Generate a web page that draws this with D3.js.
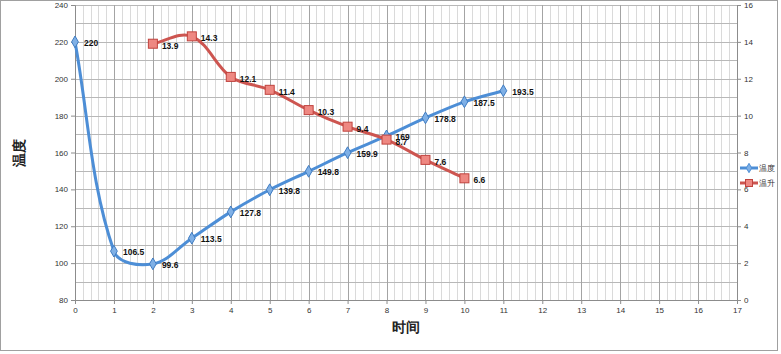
<!DOCTYPE html>
<html>
<head>
<meta charset="utf-8">
<script src="https://cdn.jsdelivr.net/npm/d3@7"></script>
<style>
  body { margin: 0; background: #fff; }
  text { font-family: "Liberation Sans", Arial, sans-serif; }
</style>
</head>
<body>
<div id="chart"></div>
<script>
// data
var tempX = [0, 1, 2, 3, 4, 5, 6, 7, 8, 9, 10, 11];
var tempY = [220, 106.5, 99.6, 113.5, 127.8, 139.8, 149.8, 159.9, 169, 178.8, 187.5, 193.5];
var riseX = [2, 3, 4, 5, 6, 7, 8, 9, 10];
var riseY = [13.9, 14.3, 12.1, 11.4, 10.3, 9.4, 8.7, 7.6, 6.6];
var leftTicks = [80, 100, 120, 140, 160, 180, 200, 220, 240];
var rightTicks = [0, 2, 4, 6, 8, 10, 12, 14, 16];
var xTicks = d3.range(0, 18);

var width = 781, height = 354;
var margin = {top: 5, right: 44, bottom: 54, left: 75};

var svg = d3.select("#chart").append("svg")
    .attr("width", width)
    .attr("height", height);

// chart frame
svg.append("rect")
    .attr("x", 0.5).attr("y", 0.5)
    .attr("width", 777).attr("height", 350)
    .attr("fill", "#fff")
    .attr("stroke", "#a0a0a0");

var x = d3.scaleLinear().domain([0, 17]).range([margin.left, width - margin.right]);
var yL = d3.scaleLinear().domain([80, 240]).range([height - margin.bottom, margin.top]);
var yR = d3.scaleLinear().domain([0, 16]).range([height - margin.bottom, margin.top]);

var grid = svg.append("g");
// minor vertical lines every 0.2
grid.selectAll("line.vmin")
    .data(d3.range(0, 85).map(function(i) { return i / 5; }).filter(function(v, i) { return i % 5 != 0; }))
    .enter().append("line")
    .attr("x1", function(d) { return Math.round(x(d)) + 0.5; })
    .attr("x2", function(d) { return Math.round(x(d)) + 0.5; })
    .attr("y1", yL(240)).attr("y2", yL(80))
    .attr("stroke", "#dadada");
// horizontal lines every 10
grid.selectAll("line.h")
    .data(d3.range(90, 250, 10))
    .enter().append("line")
    .attr("x1", x(0)).attr("x2", x(17))
    .attr("y1", function(d) { return Math.round(yL(d)) + 0.5; })
    .attr("y2", function(d) { return Math.round(yL(d)) + 0.5; })
    .attr("stroke", "#b8b8b8");
// major vertical lines
grid.selectAll("line.vmaj")
    .data(xTicks.slice(1))
    .enter().append("line")
    .attr("x1", function(d) { return Math.round(x(d)) + 0.5; })
    .attr("x2", function(d) { return Math.round(x(d)) + 0.5; })
    .attr("y1", yL(240)).attr("y2", yL(80))
    .attr("stroke", "#a4a4a4");

// axes
var axisL = d3.axisLeft(yL).tickValues(leftTicks).tickSize(4).tickPadding(3);
var axisR = d3.axisRight(yR).tickValues(rightTicks).tickSize(4).tickPadding(3);
var axisB = d3.axisBottom(x).tickValues(xTicks).tickSize(4).tickPadding(3);

function styleAxis(g) {
    g.select(".domain").attr("stroke", "#8c8c8c");
    g.selectAll(".tick line").attr("stroke", "#8c8c8c");
    g.selectAll(".tick text").attr("fill", "#333").style("font-size", "8px");
}
svg.append("g").attr("transform", "translate(" + x(0) + ",0)").call(axisL).call(styleAxis);
svg.append("g").attr("transform", "translate(" + x(17) + ",0)").call(axisR).call(styleAxis);
svg.append("g").attr("transform", "translate(0," + yL(80) + ")").call(axisB).call(styleAxis);

// axis titles
svg.append("text")
    .attr("transform", "translate(24," + (yL(160)) + ") rotate(-90)")
    .attr("text-anchor", "middle")
    .style("font-size", "14px").style("font-weight", "bold")
    .attr("fill", "#222")
    .text("温度");
svg.append("text")
    .attr("x", x(8.5)).attr("y", 332)
    .attr("text-anchor", "middle")
    .style("font-size", "14px").style("font-weight", "bold")
    .attr("fill", "#222")
    .text("时间");

var blue = "#4d8ed6", red = "#cd5550";

var tempData = tempX.map(function(d, i) { return {x: d, y: tempY[i]}; });
var riseData = riseX.map(function(d, i) { return {x: d, y: riseY[i]}; });

// excel-ish smoothing: tangent from neighbours, handle length tied to each segment's own length
function smoothPath(pts) {
    var p = d3.path();
    function tan(i) {
        var a = pts[Math.max(i - 1, 0)], b = pts[Math.min(i + 1, pts.length - 1)];
        var dx = b[0] - a[0], dy = b[1] - a[1], l = Math.sqrt(dx * dx + dy * dy) || 1;
        return [dx / l, dy / l];
    }
    p.moveTo(pts[0][0], pts[0][1]);
    for (var i = 0; i < pts.length - 1; i++) {
        var p0 = pts[i], p1 = pts[i + 1];
        var seg = Math.sqrt(Math.pow(p1[0] - p0[0], 2) + Math.pow(p1[1] - p0[1], 2)) / 3;
        var t0 = tan(i), t1 = tan(i + 1);
        p.bezierCurveTo(p0[0] + t0[0] * seg, p0[1] + t0[1] * seg,
                        p1[0] - t1[0] * seg, p1[1] - t1[1] * seg,
                        p1[0], p1[1]);
    }
    return p.toString();
}

svg.append("path")
    .attr("d", smoothPath(tempData.map(function(d) { return [x(d.x), yL(d.y)]; })))
    .attr("fill", "none").attr("stroke", blue).attr("stroke-width", 3);
svg.append("path")
    .attr("d", smoothPath(riseData.map(function(d) { return [x(d.x), yR(d.y)]; })))
    .attr("fill", "none").attr("stroke", red).attr("stroke-width", 3);

// markers
var diamond = d3.symbol().type(d3.symbolDiamond).size(40);
svg.selectAll("path.mt").data(tempData).enter().append("path")
    .attr("d", diamond)
    .attr("transform", function(d) { return "translate(" + x(d.x) + "," + yL(d.y) + ")"; })
    .attr("fill", "#7fb0e6").attr("stroke", "#3f7cc2").attr("stroke-width", 1);
svg.selectAll("rect.mr").data(riseData).enter().append("rect")
    .attr("x", function(d) { return x(d.x) - 4.5; })
    .attr("y", function(d) { return yR(d.y) - 4.5; })
    .attr("width", 9).attr("height", 9)
    .attr("fill", "#ee8882").attr("stroke", "#c0433e").attr("stroke-width", 1);

// data labels
svg.selectAll("text.lt").data(tempData).enter().append("text")
    .attr("x", function(d) { return x(d.x) + 9; })
    .attr("y", function(d) { return yL(d.y) + 4; })
    .style("font-size", "8.5px").style("font-weight", "bold")
    .attr("fill", "#111")
    .text(function(d) { return d.y; });
svg.selectAll("text.lr").data(riseData).enter().append("text")
    .attr("x", function(d) { return x(d.x) + 9; })
    .attr("y", function(d) { return yR(d.y) + 5; })
    .style("font-size", "8.5px").style("font-weight", "bold")
    .attr("fill", "#111")
    .text(function(d) { return d.y; });

// legend
var legend = svg.append("g").attr("transform", "translate(740,168)");
[["温度", blue, "#7fb0e6"], ["温升", red, "#ee8882"]].forEach(function(s, i) {
    var g = legend.append("g").attr("transform", "translate(0," + (i * 15) + ")");
    g.append("line").attr("x1", 0).attr("x2", 18).attr("y1", 0).attr("y2", 0)
        .attr("stroke", s[1]).attr("stroke-width", 3);
    if (i == 0) {
        g.append("path").attr("d", d3.symbol().type(d3.symbolDiamond).size(25))
            .attr("transform", "translate(9,0)").attr("fill", s[2]).attr("stroke", s[1]);
    } else {
        g.append("rect").attr("x", 5.5).attr("y", -3.5).attr("width", 7).attr("height", 7)
            .attr("fill", s[2]).attr("stroke", "#c0433e");
    }
    g.append("text").attr("x", 19).attr("y", 3)
        .style("font-size", "7.5px").attr("fill", "#333")
        .text(s[0]);
});
</script>
</body>
</html>
